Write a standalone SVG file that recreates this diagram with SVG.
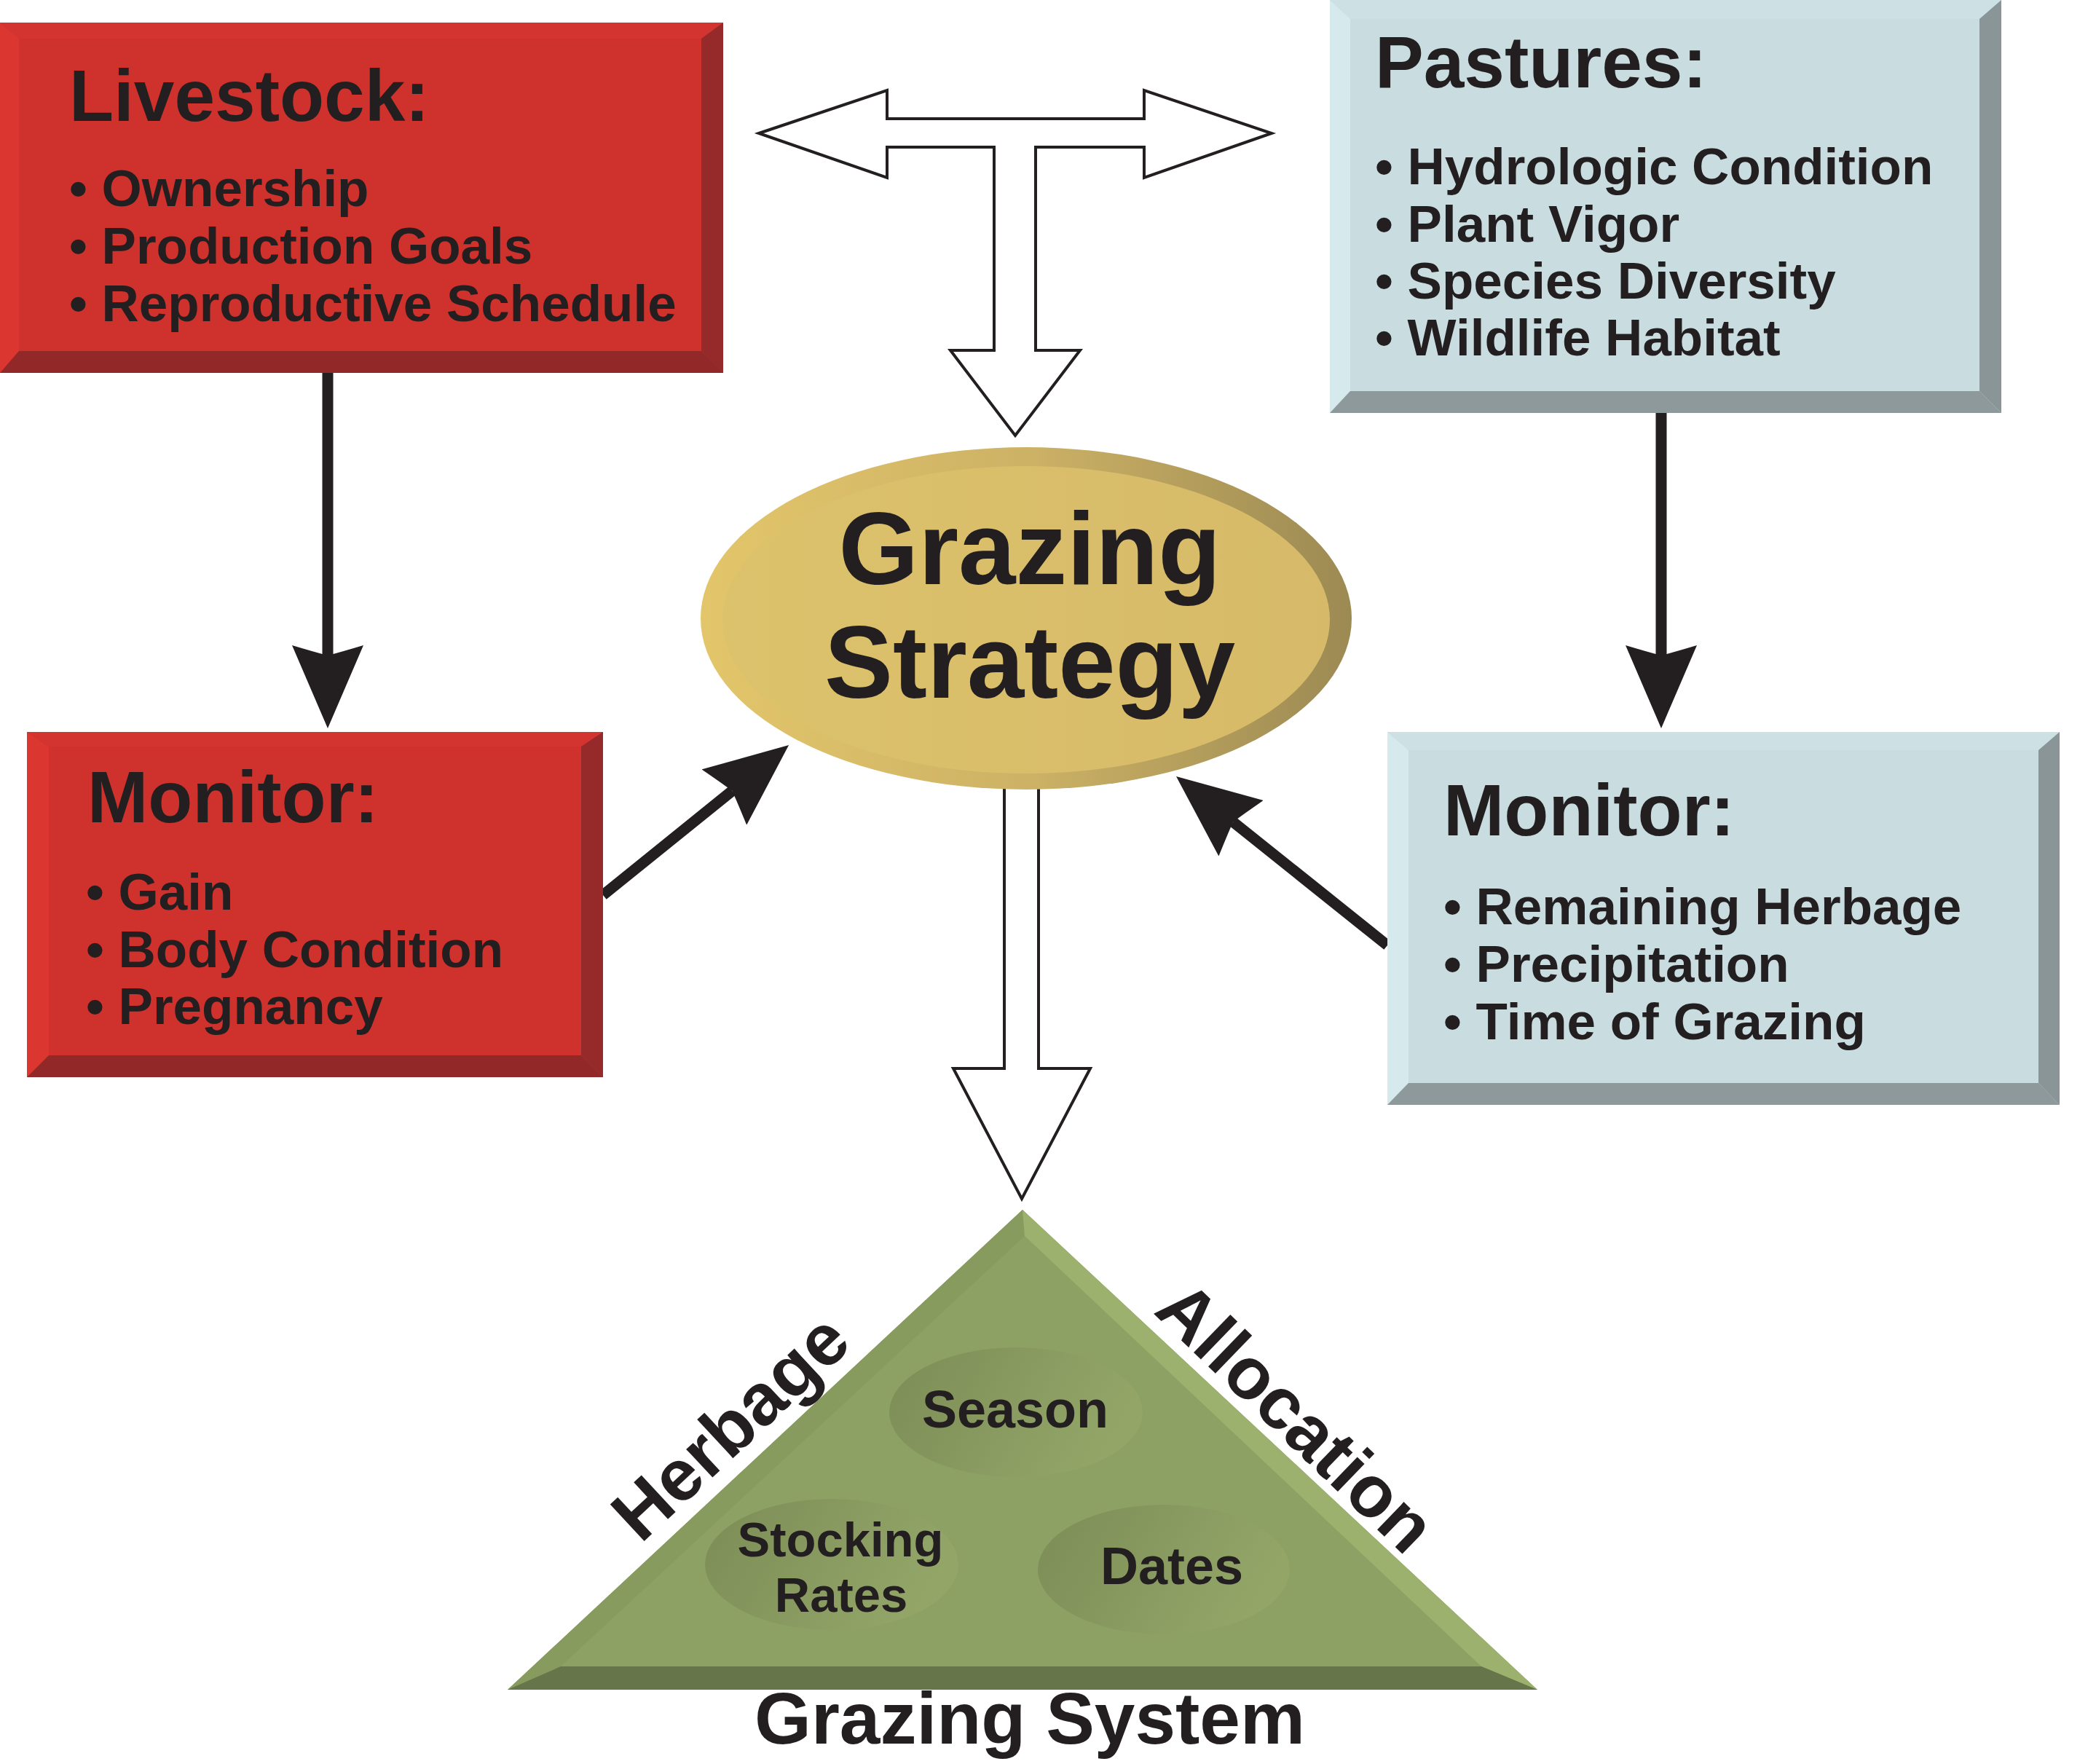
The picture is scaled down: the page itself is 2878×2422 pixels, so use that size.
<svg xmlns="http://www.w3.org/2000/svg" width="2878" height="2422" viewBox="0 0 2878 2422">
<defs>
<style>
text{font-family:"Liberation Sans",Arial,Helvetica,sans-serif;font-weight:bold;fill:#231F20}
.title{font-size:100px}
.item{font-size:71px}
.big{font-size:141px}
.tri{font-size:72px}
.stk{font-size:67px}
.side{font-size:100px}
.hollow{fill:#FFFFFF;stroke:#231F20;stroke-width:4;stroke-linejoin:miter}
.conn{stroke:#231F20;stroke-width:15;fill:none;marker-end:url(#head)}
.rf{fill:#CF312C}.rl{fill:#DB3630}.rt{fill:#D3342F}.rr{fill:#962A2A}.rb{fill:#932829}
.bf{fill:#C9DDE1}.bl{fill:#D6EAEE}.bt{fill:#CDE1E5}.br{fill:#8A9597}.bb{fill:#8E999B}
</style>
<marker id="head" viewBox="0 0 114 98" refX="14" refY="49" markerWidth="114" markerHeight="98" markerUnits="userSpaceOnUse" orient="auto">
<path d="M0,0 Q9,30 14,49 Q9,68 0,98 L114,49 Z" fill="#231F20"/>
</marker>
<linearGradient id="ring" x1="0" y1="0" x2="1" y2="0">
<stop offset="0" stop-color="#E3C66A"/>
<stop offset="0.5" stop-color="#CDB266"/>
<stop offset="1" stop-color="#9C8A53"/>
</linearGradient>
<linearGradient id="face" x1="0" y1="0" x2="1" y2="0">
<stop offset="0" stop-color="#DDC26C"/>
<stop offset="1" stop-color="#D6BA69"/>
</linearGradient>
<linearGradient id="pit" x1="0" y1="0" x2="1" y2="0.3">
<stop offset="0" stop-color="#7C8C56"/>
<stop offset="1" stop-color="#93A668"/>
</linearGradient>
</defs>
<rect x="0" y="0" width="2878" height="2422" fill="#FFFFFF"/>

<g id="connectors">
<path class="hollow" d="M1042,183 L1218,124 L1218,163 L1571,163 L1571,124 L1746,183 L1571,244 L1571,202 L1422,202 L1422,481 L1483,481 L1394,598 L1305,481 L1365,481 L1365,202 L1218,202 L1218,244 Z"/>
<path class="hollow" d="M1379,1080 L1379,1467 L1309,1467 L1403,1646 L1497,1467 L1426,1467 L1426,1080"/>
<line class="conn" x1="450" y1="512" x2="450" y2="900"/>
<line class="conn" x1="2281" y1="567" x2="2281" y2="900"/>
<line class="conn" x1="828" y1="1229" x2="1005.3" y2="1085.8"/>
<line class="conn" x1="1905" y1="1298" x2="1693.1" y2="1128.5"/>
</g>

<g id="livestock">
<rect class="rf" x="0" y="31" width="993" height="481"/>
<polygon class="rl" points="0,31 26,53 26,482 0,512"/>
<polygon class="rt" points="0,31 993,31 963,53 26,53"/>
<polygon class="rr" points="993,31 993,512 963,482 963,53"/>
<polygon class="rb" points="0,512 993,512 963,482 26,482"/>
<text class="title" x="95" y="166">Livestock:</text>
<text class="item" x="95" y="283">• Ownership</text>
<text class="item" x="95" y="362">• Production Goals</text>
<text class="item" x="95" y="441">• Reproductive Schedule</text>
</g>

<g id="pastures">
<rect class="bf" x="1826" y="0" width="922" height="567"/>
<polygon class="bl" points="1826,0 1854,26 1854,537 1826,567"/>
<polygon class="bt" points="1826,0 2748,0 2718,26 1854,26"/>
<polygon class="br" points="2748,0 2748,567 2718,537 2718,26"/>
<polygon class="bb" points="1826,567 2748,567 2718,537 1854,537"/>
<text class="title" x="1888" y="120">Pastures:</text>
<text class="item" x="1888" y="253">• Hydrologic Condition</text>
<text class="item" x="1888" y="332">• Plant Vigor</text>
<text class="item" x="1888" y="410">• Species Diversity</text>
<text class="item" x="1888" y="488">• Wildlife Habitat</text>
</g>

<g id="monitor-livestock">
<rect class="rf" x="37" y="1005" width="791" height="474"/>
<polygon class="rl" points="37,1005 67,1025 67,1449 37,1479"/>
<polygon class="rt" points="37,1005 828,1005 798,1025 67,1025"/>
<polygon class="rr" points="828,1005 828,1479 798,1449 798,1025"/>
<polygon class="rb" points="37,1479 828,1479 798,1449 67,1449"/>
<text class="title" x="120" y="1129">Monitor:</text>
<text class="item" x="118" y="1249">• Gain</text>
<text class="item" x="118" y="1328">• Body Condition</text>
<text class="item" x="118" y="1406">• Pregnancy</text>
</g>

<g id="monitor-pastures">
<rect class="bf" x="1905" y="1005" width="923" height="512"/>
<polygon class="bl" points="1905,1005 1934,1030 1934,1487 1905,1517"/>
<polygon class="bt" points="1905,1005 2828,1005 2799,1030 1934,1030"/>
<polygon class="br" points="2828,1005 2828,1517 2799,1487 2799,1030"/>
<polygon class="bb" points="1905,1517 2828,1517 2799,1487 1934,1487"/>
<text class="title" x="1982" y="1147">Monitor:</text>
<text class="item" x="1982" y="1269">• Remaining Herbage</text>
<text class="item" x="1982" y="1348">• Precipitation</text>
<text class="item" x="1982" y="1427">• Time of Grazing</text>
</g>

<g id="grazing-strategy">
<ellipse cx="1409" cy="849" rx="447" ry="235" fill="url(#ring)"/>
<ellipse cx="1409" cy="851" rx="417" ry="211" fill="url(#face)"/>
<text class="big" x="1414" y="802" text-anchor="middle">Grazing</text>
<text class="big" x="1414" y="958" text-anchor="middle">Strategy</text>
</g>

<g id="grazing-system">
<polygon points="1404,1661 2111,2320 697,2320" fill="#8EA164"/>
<polygon points="1404,1661 1407,1697 770,2288 697,2320" fill="#889B5F"/>
<polygon points="1404,1661 2111,2320 2034,2288 1407,1697" fill="#9BB16D"/>
<polygon points="697,2320 2111,2320 2034,2288 770,2288" fill="#66754A"/>
<ellipse cx="1395" cy="1939" rx="174" ry="89" fill="url(#pit)"/>
<ellipse cx="1142" cy="2148" rx="174" ry="90" fill="url(#pit)"/>
<ellipse cx="1598" cy="2155" rx="173" ry="89" fill="url(#pit)"/>
<text class="tri" x="1394" y="1960" text-anchor="middle">Season</text>
<text class="stk" x="1154" y="2137" text-anchor="middle">Stocking</text>
<text class="stk" x="1155" y="2213" text-anchor="middle">Rates</text>
<text class="tri" x="1609" y="2175" text-anchor="middle">Dates</text>
<text class="side" x="0" y="0" text-anchor="middle" transform="translate(1026,1984) rotate(-43)">Herbage</text>
<text class="side" x="0" y="0" text-anchor="middle" transform="translate(1756,1970) rotate(44)">Allocation</text>
<text class="title" x="1414" y="2394" text-anchor="middle">Grazing System</text>
</g>
</svg>
